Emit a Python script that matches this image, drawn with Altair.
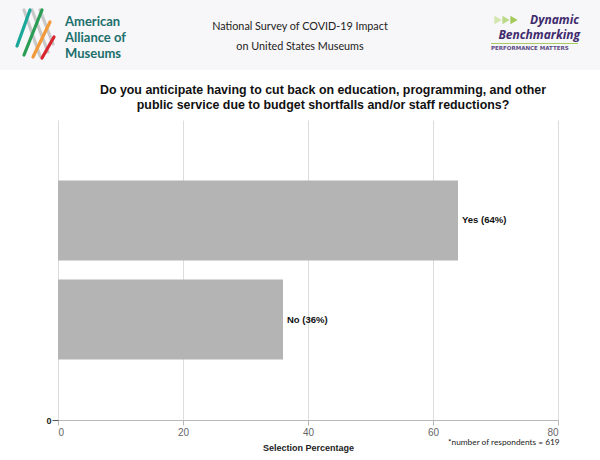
import altair as alt
import pandas as pd

# ---- data ----
answers = ["Yes", "No"]
percentages = [64, 36]
bar_labels = ["Yes (64%)", "No (36%)"]
x_ticks = [0, 20, 40, 60, 80]

title_lines = [
    "Do you anticipate having to cut back on education, programming, and other",
    "public service due to budget shortfalls and/or staff reductions?",
]
header_lines = ["National Survey of COVID-19 Impact", "on United States Museums"]
footnote = "*number of respondents = 619"

df = pd.DataFrame({"answer": answers, "pct": percentages, "label": bar_labels})

FONT = "Liberation Sans"
one = alt.Data(values=[{"a": 0}])

x_enc = alt.X(
    "pct:Q",
    scale=alt.Scale(domain=[0, 80], nice=False),
    axis=alt.Axis(
        values=x_ticks, title="Selection Percentage", grid=True, gridColor="#dcdcdc",
        domainColor="#b8b8b8", tickColor="#b8b8b8", tickSize=5,
        labelColor="#666666", labelFontSize=10, labelFont=FONT, labelPadding=2,
        titleFont=FONT, titleFontSize=9, titleFontWeight="bold", titleColor="#222222",
        titlePadding=6,
    ),
)
y_enc = alt.Y(
    "answer:N", sort=answers,
    scale=alt.Scale(paddingInner=0.19, paddingOuter=0.61),
    axis=None,
)

bars = alt.Chart(df).mark_bar(color="#b4b4b4").encode(x=x_enc, y=y_enc)
labels = alt.Chart(df).mark_text(
    align="left", baseline="middle", dx=4, font=FONT, fontSize=9.5,
    fontWeight="bold", color="#111111",
).encode(x="pct:Q", y=y_enc, text="label:N")

data_layer = alt.layer(bars, labels)

# y axis that only shows 0 at the bottom
zero_axis = alt.Chart(alt.Data(values=[{"z": 0}])).mark_point(opacity=0).encode(
    y=alt.Y("z:Q", scale=alt.Scale(domain=[0, 1]),
            axis=alt.Axis(values=[0], title=None, grid=False, domain=False, orient="left",
                          tickColor="#555555", tickSize=6, labelFont=FONT,
                          labelFontSize=9, labelFontWeight="bold", labelColor="#222222",
                          labelPadding=1))
)

# ---- header decorations (relative to plot origin at 58,120) ----
def rel_x(v):
    return alt.value(v - 58)


def rel_y(v):
    return alt.value(v - 120)


header_bg = alt.Chart(one).mark_rect(color="#f7f6f8").encode(
    x=rel_x(0), x2=rel_x(600), y=rel_y(0), y2=rel_y(70))

def stripe(x1, y1, x2, y2, color):
    return alt.Chart(one).mark_rule(color=color, strokeWidth=3.2, strokeCap="round").encode(
        x=rel_x(x1), y=rel_y(y1), x2=rel_x(x2), y2=rel_y(y2))

stripes = [
    stripe(24, 10, 40, 56, "#c9c9c9"),
    stripe(32, 10, 48, 52, "#c9c9c9"),
    stripe(40, 10, 53, 44, "#c9c9c9"),
    stripe(17, 46, 30, 10, "#1aa89a"),
    stripe(24, 55, 42, 10, "#2a9d55"),
    stripe(33, 57, 50, 22, "#f29a3a"),
    stripe(42, 58, 54, 37, "#d7262f"),
]

def txt(s, x, y, size, color, weight="normal", style="normal", font=FONT, align="left"):
    return alt.Chart(one).mark_text(
        text=s, align=align, baseline="middle", fontSize=size, color=color,
        fontWeight=weight, fontStyle=style, font=font,
    ).encode(x=rel_x(x), y=rel_y(y))

def arrow(x, y, color):
    return alt.Chart(one).mark_point(shape="triangle-right", filled=True, size=70,
                                     color=color, opacity=1).encode(x=rel_x(x), y=rel_y(y))

aam = [
    txt("American", 65, 22, 13, "#1b6f6c", "bold", font="Lato"),
    txt("Alliance of", 65, 38, 13, "#1b6f6c", "bold", font="Lato"),
    txt("Museums", 65, 54, 13, "#1b6f6c", "bold", font="Lato"),
]
header_txt = [
    txt(header_lines[0], 300, 27, 10.8, "#222222", font="Lato", align="center"),
    txt(header_lines[1], 300, 47, 10.8, "#222222", font="Lato", align="center"),
]
db = [
    arrow(498, 20, "#d3e6ad"),
    arrow(506, 20, "#bcd987"),
    arrow(514, 20, "#a3c95b"),
    txt("Dynamic", 579, 19.5, 12, "#3e2b6d", "bold", "italic", font="Open Sans", align="right"),
    txt("Benchmarking", 580, 35, 12, "#3e2b6d", "bold", "italic", font="Open Sans", align="right"),
    txt("PERFORMANCE MATTERS", 491, 48, 5.5, "#5c4d85", "bold", font="DejaVu Sans"),
]
db_line = alt.Chart(one).mark_rule(color="#a9cc62", strokeWidth=1).encode(
    x=rel_x(491), x2=rel_x(578), y=rel_y(43.5))

title_txt = [
    txt(title_lines[0], 323, 90, 12.4, "#111111", "bold", align="center"),
    txt(title_lines[1], 323, 105, 12.4, "#111111", "bold", align="center"),
]

foot = txt(footnote, 448, 443, 8.3, "#222222", font="Lato")

chart = alt.layer(
    header_bg, *stripes, *aam, *header_txt, *db, db_line, *title_txt,
    data_layer, zero_axis, foot,
).resolve_scale(y="independent").properties(
    width=500, height=300,
    autosize=alt.AutoSizeParams(type="none"),
    padding={"left": 58, "top": 120, "right": 42, "bottom": 40},
    background="white",
).configure_view(stroke=None)

chart.save("out.html", embed_options={"renderer": "svg", "actions": False})
